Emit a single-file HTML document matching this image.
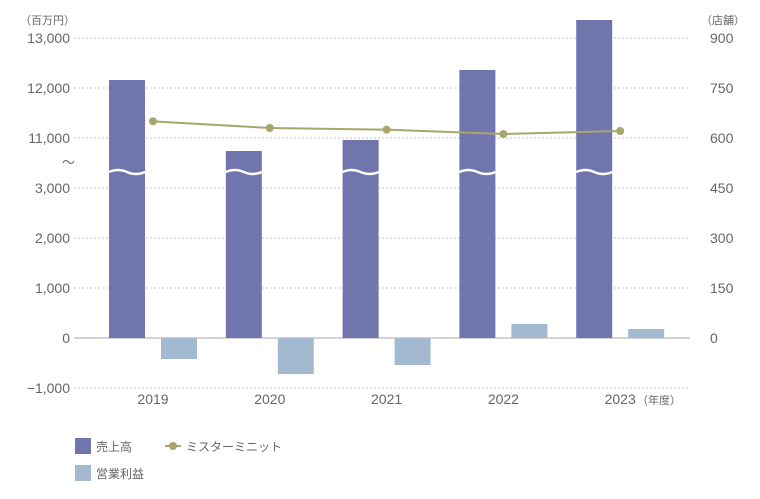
<!DOCTYPE html>
<html><head><meta charset="utf-8"><style>
body{margin:0;background:#fff;}
svg text{font-family:"Liberation Sans","Noto Sans CJK JP",sans-serif;fill:#666;}
</style></head><body>
<svg width="760" height="494" id="c" xmlns="http://www.w3.org/2000/svg"></svg>
<script>
const years=["2019","2020","2021","2022","2023"];
const sales=[12160,10740,10960,12360,13360];
const profit=[-420,-720,-540,280,180];
const stores=[650,630,625,612,621];
const leftTicks=[13000,12000,11000,3000,2000,1000,0,-1000];
const rightTicks=[900,750,600,450,300,150,0];

const svg=document.getElementById('c');
const NS="http://www.w3.org/2000/svg";
function mk(t,a,txt){const e=document.createElementNS(NS,t);for(const k in a)e.setAttribute(k,a[k]);if(txt!==undefined)e.textContent=txt;svg.appendChild(e);return e;}
// broken axis: upper scale (11000-13000 -> 138..38) continues down to the break; lower -1000..3000 -> 388..188
function yL(v){return v>3000?138-(v-11000)*0.05:338-v*0.05;}
function yR(v){return 338-v/3;}
function xC(i){return 153+i*116.8;}
const BW=36;

leftTicks.forEach(v=>{const y=yL(v);
 let g=mk('line',{x1:74,x2:690,y1:y,y2:y,stroke:v===0?'#aaa':'#c4c4c4','stroke-dasharray':v===0?'':'2,2','stroke-width':1});
 
 let t=mk('text',{x:70,y:y+5,'text-anchor':'end','font-size':14},v.toLocaleString('en-US').replace('-','\u2212'));
 
});
rightTicks.forEach(v=>{let t=mk('text',{x:710,y:yR(v)+5,'font-size':14},String(v));
 });
let u1=mk('text',{x:20,y:24,'font-size':11},'（百万円）');
let u2=mk('text',{x:701,y:24,'font-size':11},'（店舗）');
let tl=mk('text',{x:62,y:167,'font-size':13},'～');

years.forEach((yr,i)=>{const cx=xC(i);
 const sx=cx-44;const top=yL(sales[i]);
 let b=mk('rect',{x:sx,y:top,width:BW,height:338-top,fill:'#7175ae'});
 
 let w=mk('path',{d:`M${sx} 172 q${BW/4} -4 ${BW/2} 0 t${BW/2} 0`,stroke:'#fff','stroke-width':2.5,fill:'none'});
 
 const py=yL(profit[i]);
 let p=mk('rect',{x:cx+8,y:Math.min(py,338),width:BW,height:Math.abs(py-338),fill:'#a2b9cf'});
 
 let t=mk('text',{x:cx,y:404,'text-anchor':'middle','font-size':14},yr);
 
});
let ny=mk('text',{x:637,y:404,'font-size':11},'（年度）');

let pts=stores.map((v,i)=>`${xC(i)},${yR(v)}`).join(' ');
let ln=mk('polyline',{points:pts,fill:'none',stroke:'#a9a66d','stroke-width':2});

stores.forEach((v,i)=>{let c=mk('circle',{cx:xC(i),cy:yR(v),r:4,fill:'#a9a66d'});
 });

let l1=mk('rect',{x:75,y:438,width:16,height:16,fill:'#7175ae'});
let lt1=mk('text',{x:96,y:451,'font-size':12},'売上高');
let l2=mk('line',{x1:165,x2:181,y1:446,y2:446,stroke:'#a9a66d','stroke-width':2});
let l2c=mk('circle',{cx:173,cy:446,r:4,fill:'#a9a66d'});
let lt2=mk('text',{x:186,y:451,'font-size':12},'ミスターミニット');
let l3=mk('rect',{x:75,y:465,width:16,height:16,fill:'#a2b9cf'});
let lt3=mk('text',{x:96,y:478,'font-size':12},'営業利益');
</script>
</body></html>
